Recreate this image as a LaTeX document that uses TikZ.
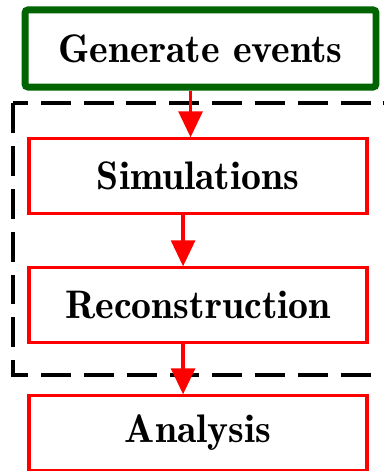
\documentclass[tikz,border=0pt]{standalone}
\usepackage{fontspec}
\usepackage{tikz}
\usetikzlibrary{arrows.meta}

\newfontfamily\stagefont{lmromandemi10-regular.otf}
\definecolor{gendkgreen}{RGB}{0,100,0}

\tikzset{
  stagebox/.style={draw=red, line width=1.6pt, minimum width=5.96cm, minimum height=1.31cm, inner sep=0pt, font=\stagefont\fontsize{20}{24}\selectfont},
  genbox/.style={draw=gendkgreen, line width=3.5pt, rounded corners=1.5pt, minimum width=6.19cm, minimum height=1.36cm, inner sep=0pt, font=\stagefont\fontsize{20}{24}\selectfont},
  flow/.style={red, line width=1.6pt, -{Triangle[length=13pt,width=12pt]}}
}

\begin{document}
\begin{tikzpicture}
\useasboundingbox (0,0) rectangle (6.773,-8.308);
\draw [black, line width=2pt, dash pattern=on 15pt off 6.5pt] (0.23,-1.82) rectangle (6.9,-6.615);
\node [genbox] (gen) at (3.537,-0.855) {Generate events};
\node [stagebox] (sim) at (3.493,-3.105) {Simulations};
\node [stagebox] (reco) at (3.493,-5.38) {Reconstruction};
\node [stagebox] (ana) at (3.493,-7.638) {Analysis};
\draw [flow] ([xshift=-5pt]gen.south) -- ([xshift=-5pt]gen.south |- sim.north);
\draw [flow] ([xshift=-7.5pt]sim.south) -- ([xshift=-7.5pt]reco.north);
\draw [flow] ([xshift=-7.5pt]reco.south) -- ([xshift=-7.5pt]ana.north);
\end{tikzpicture}
\end{document}
